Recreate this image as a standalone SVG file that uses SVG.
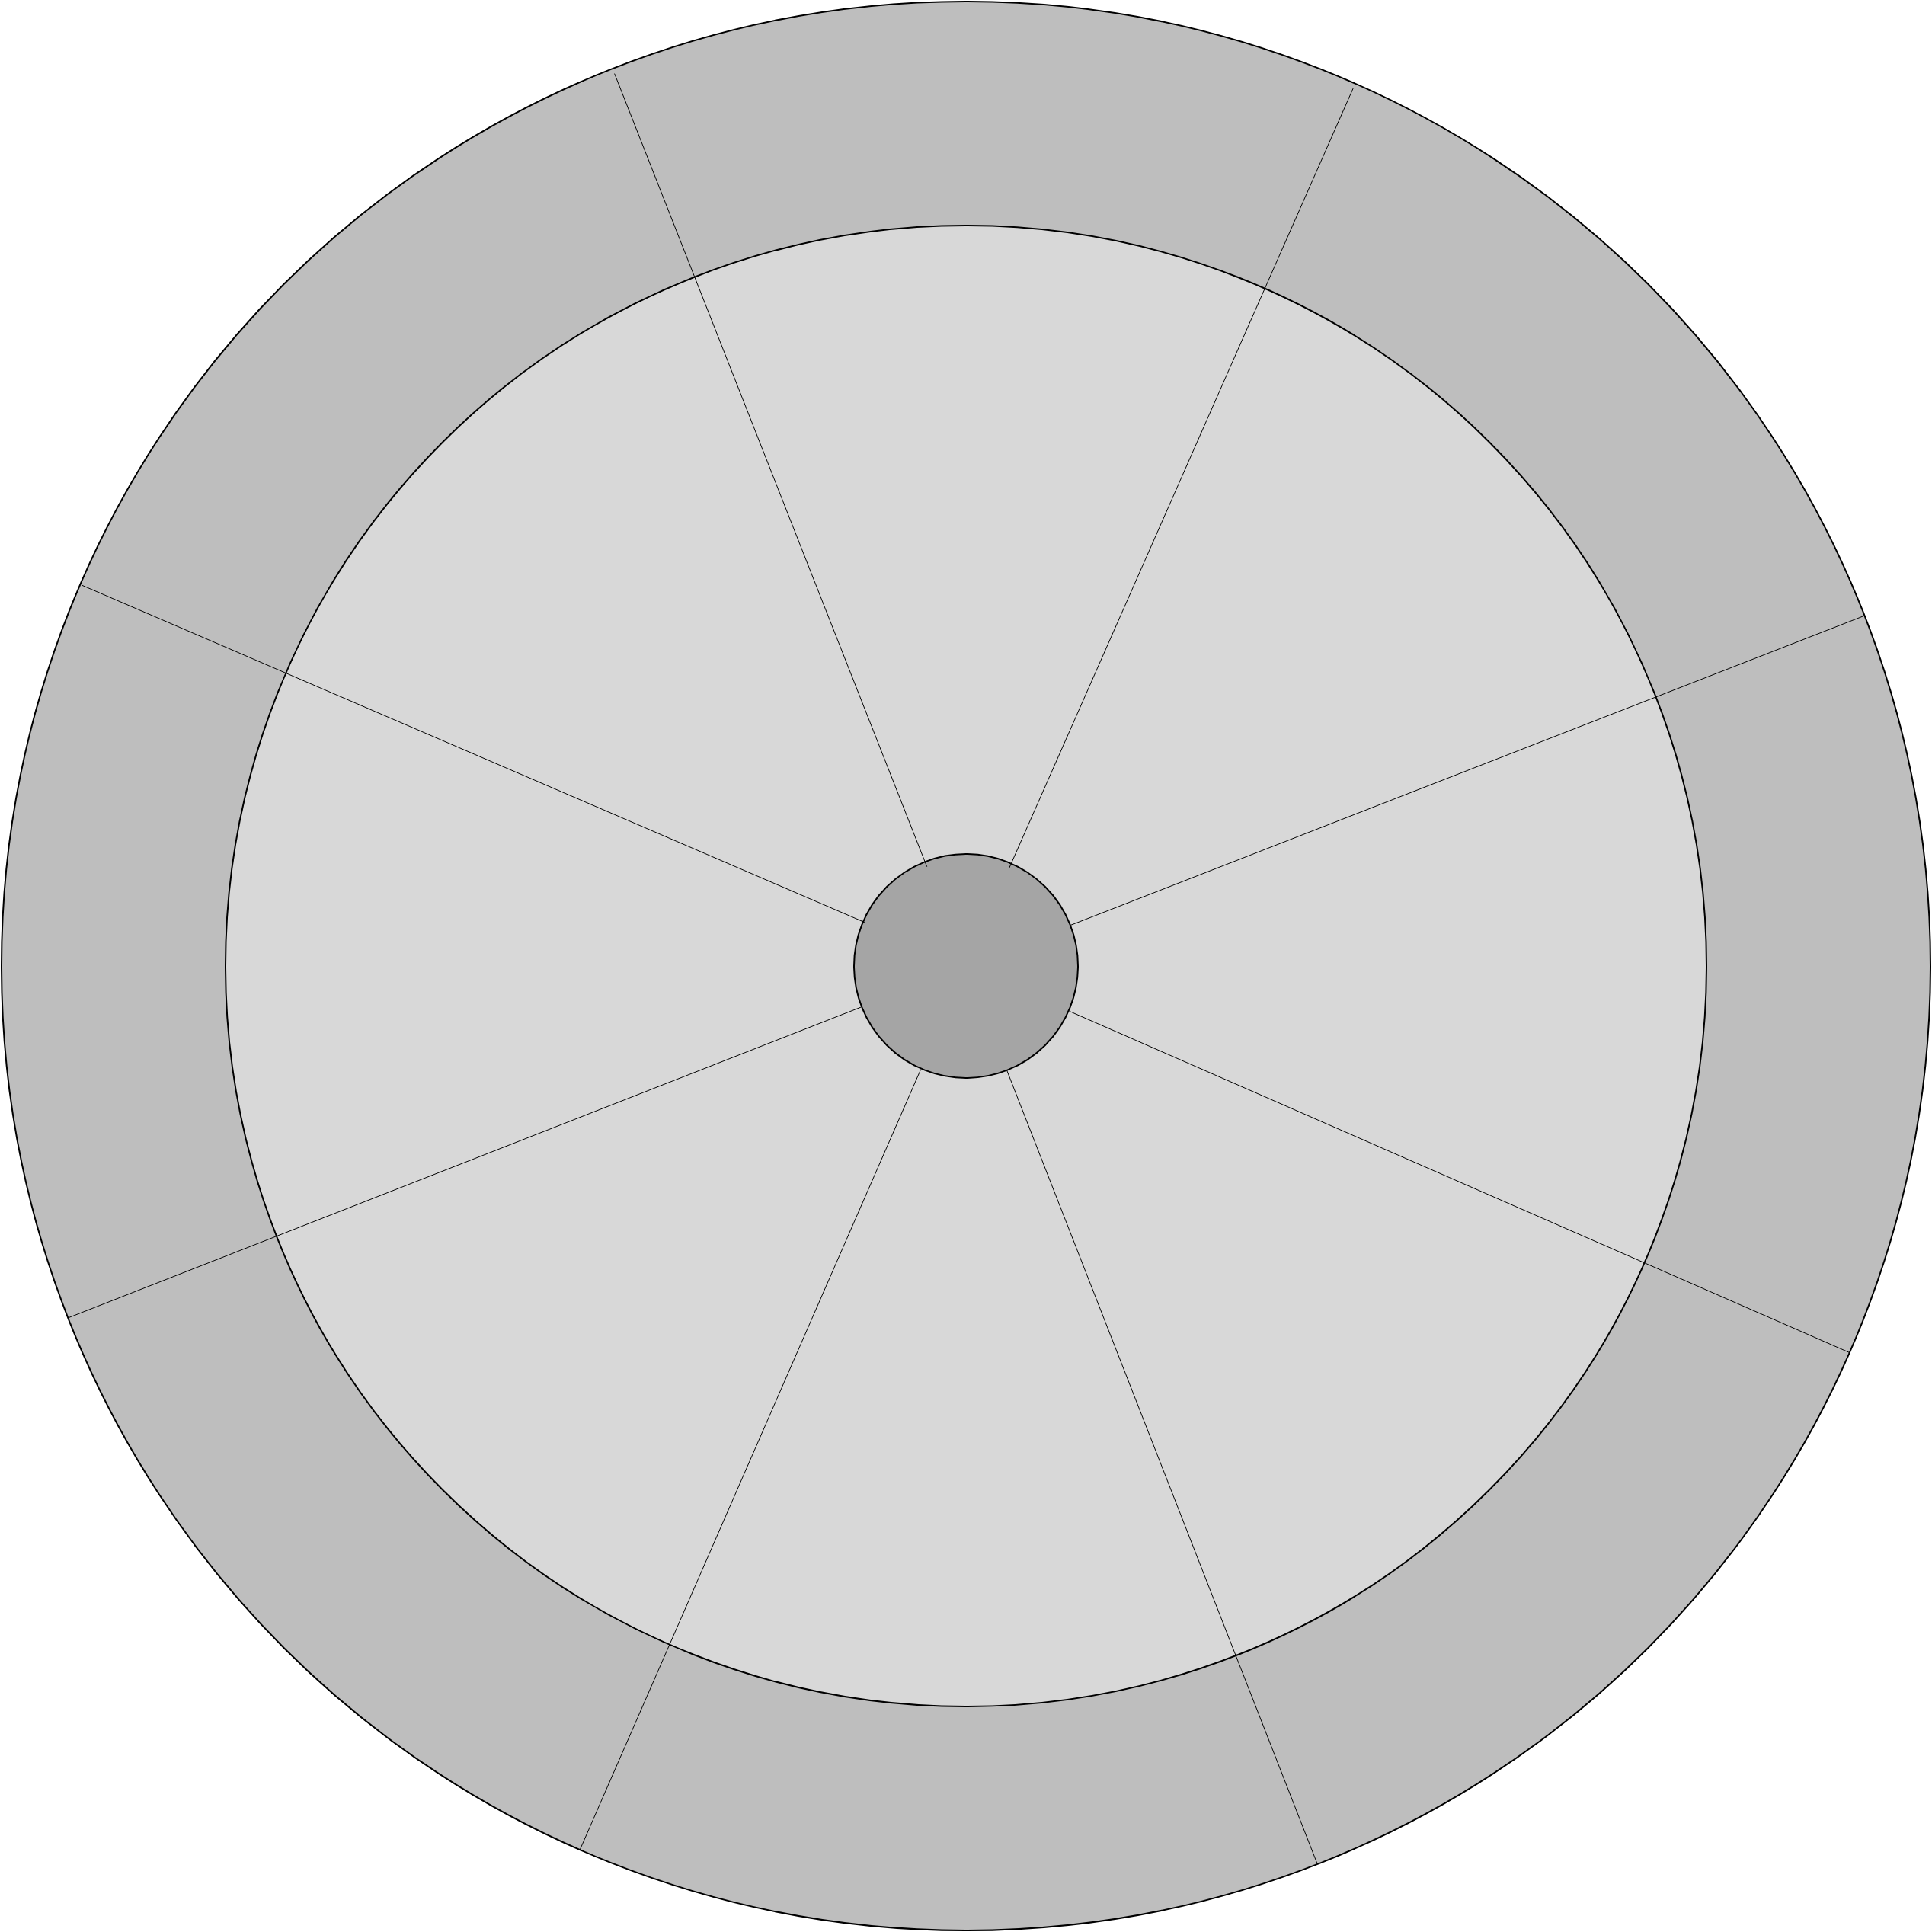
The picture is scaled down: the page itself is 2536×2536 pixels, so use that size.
<svg xmlns="http://www.w3.org/2000/svg" width="2536" height="2536" viewBox="0 0 2536 2536">
<style>
.ring{stroke:#000;stroke-width:2}
.spoke{stroke:#000;stroke-width:1;fill:none}
</style>
<rect width="2536" height="2536" fill="#fff"/>
<g id="outer"><circle class="ring" cx="1268" cy="1268" r="1266" fill="#bebebe"/></g>
<g id="inner"><circle class="ring" cx="1268" cy="1268" r="972" fill="#d8d8d8"/></g>
<g id="hub"><circle class="ring" cx="1268" cy="1268" r="147" fill="#a5a5a5"/></g>
<g id="spokes">
<line class="spoke" x1="1403.6" y1="1327.3" x2="2427.8" y2="1775.5"/>
<line class="spoke" x1="1321.6" y1="1404.9" x2="1729.3" y2="2447.0"/>
<line class="spoke" x1="1208.7" y1="1403.6" x2="761.2" y2="2428.1"/>
<line class="spoke" x1="1130.2" y1="1322.0" x2="89.3" y2="1729.9"/>
<line class="spoke" x1="1134.8" y1="1210.6" x2="108.0" y2="768.4"/>
<line class="spoke" x1="1216.7" y1="1137.7" x2="806.6" y2="96.6"/>
<line class="spoke" x1="1324.5" y1="1139.9" x2="1776.1" y2="116.1"/>
<line class="spoke" x1="1405.9" y1="1214.2" x2="2447.5" y2="808.1"/>
</g>
</svg>
